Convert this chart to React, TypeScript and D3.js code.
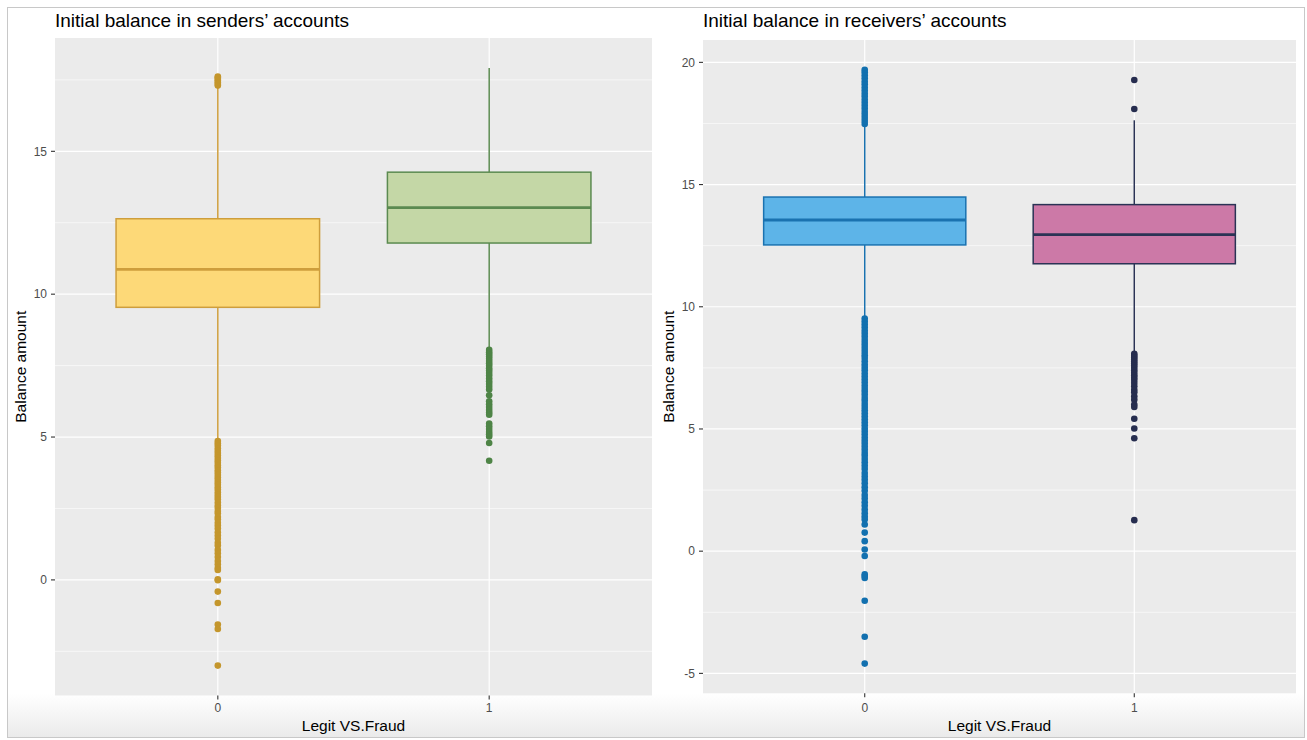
import React from "react";
import * as d3 from "d3";

// ---------- DATA ----------
const categories = ["0", "1"];
const xTitle = "Legit VS.Fraud";
const yTitle = "Balance amount";

const sendersTitle = "Initial balance in senders\u2019 accounts";
const sendersTicks = [0, 5, 10, 15];
// [lowWhisker, q1, median, q3, highWhisker]
const sendersLegitBox = [4.9, 9.54, 10.87, 12.64, 17.25];
const sendersFraudBox = [8.1, 11.79, 13.03, 14.27, 17.92];
const sendersLegitOutliers = [
  17.3, 17.36, 17.42, 17.48, 17.53, 17.58, 17.62,
  4.86, 4.78, 4.7, 4.61, 4.52, 4.44, 4.35, 4.27, 4.18, 4.1, 4.01, 3.93, 3.84, 3.76, 3.67,
  3.58, 3.5, 3.41, 3.33, 3.24, 3.16, 3.07, 2.98, 2.9, 2.82, 2.71, 2.6, 2.52, 2.41, 2.33,
  2.2, 2.12, 2.0, 1.9, 1.8, 1.67, 1.55, 1.44, 1.3, 1.2, 1.05, 0.93, 0.8, 0.66, 0.55,
  0.42, 0.35, 0.02, -0.01, -0.41, -0.81, -1.56, -1.72, -3.0,
];
const sendersFraudOutliers = [
  8.05, 7.97, 7.9, 7.82, 7.74, 7.66, 7.58, 7.5, 7.41, 7.33, 7.24, 7.15, 7.05, 6.95, 6.86,
  6.76, 6.66, 6.46, 6.25, 6.15, 6.05, 5.95, 5.86, 5.78, 5.47, 5.38, 5.28, 5.18, 5.1, 5.02,
  4.79, 4.17,
];

const receiversTitle = "Initial balance in receivers\u2019 accounts";
const receiversTicks = [-5, 0, 5, 10, 15, 20];
const receiversLegitBox = [9.6, 12.53, 13.55, 14.49, 17.4];
const receiversFraudBox = [8.15, 11.76, 12.95, 14.18, 17.63];
const receiversLegitOutliers = [
  17.48, 17.6, 17.72, 17.85, 17.97, 18.1, 18.22, 18.35, 18.47, 18.6, 18.72, 18.85, 18.97,
  19.1, 19.22, 19.35, 19.47, 19.6, 19.7,
  9.52, 9.4, 9.27, 9.15, 9.02, 8.9, 8.77, 8.64, 8.52, 8.4, 8.27, 8.15, 8.02, 7.9, 7.77,
  7.64, 7.52, 7.4, 7.27, 7.15, 7.02, 6.9, 6.77, 6.64, 6.52, 6.4, 6.27, 6.15, 6.02, 5.9,
  5.77, 5.64, 5.52, 5.4, 5.27, 5.15, 5.02, 4.9, 4.77, 4.64, 4.52, 4.4, 4.27, 4.15, 4.02,
  3.9, 3.77, 3.64, 3.5, 3.36, 3.2, 3.06, 2.92, 2.78, 2.62, 2.47, 2.3, 2.16, 2.0, 1.86,
  1.7, 1.55, 1.42, 1.3, 1.09, 0.76, 0.41, 0.07, -0.2, -0.95, -1.02, -1.1, -2.03, -3.5, -4.6,
];
const receiversFraudOutliers = [
  19.28, 18.09, 8.08, 8.0, 7.92, 7.84, 7.76, 7.68, 7.6, 7.5, 7.4, 7.3, 7.2, 7.1, 7.0,
  6.88, 6.75, 6.6, 6.5, 6.34, 6.2, 6.0, 5.9, 5.42, 5.02, 4.62, 1.27,
];

// ---------- STYLE ----------
const sendersStyles = [
  { fill: "#FDD978", stroke: "#CE9E3C", point: "#C4962C" },
  { fill: "#C4D7A6", stroke: "#5B8A50", point: "#4E8446" },
];
const receiversStyles = [
  { fill: "#5DB4E8", stroke: "#1A72B0", point: "#1270AF" },
  { fill: "#CC79A7", stroke: "#2B3355", point: "#262D4F" },
];

const FONT = "'Liberation Sans', Arial, Helvetica, sans-serif";

type PanelProps = {
  title: string;
  left: number;
  right: number;
  top: number;
  bottom: number;
  ticks: number[];
  boxes: number[][];
  outliers: number[][];
  styles: { fill: string; stroke: string; point: string }[];
  yTitleX: number;
};

function Panel(p: PanelProps) {
  const all = p.boxes.flat().concat(p.outliers.flat());
  const lo = d3.min(all) as number;
  const hi = d3.max(all) as number;
  const pad = (hi - lo) * 0.05;
  const y = d3.scaleLinear().domain([lo - pad, hi + pad]).range([p.bottom, p.top]);
  const x = d3
    .scalePoint<string>()
    .domain(categories)
    .range([p.left, p.right])
    .padding(0.6);
  const step = x.step();
  const boxW = step * 0.75;
  const [d0, d1] = y.domain();
  const minor: number[] = [];
  for (let i = 0; i < p.ticks.length + 1; i++) {
    const v = p.ticks[0] - 2.5 + i * 5;
    if (v > d0 && v < d1) minor.push(v);
  }
  const midY = (p.top + p.bottom) / 2;
  const midX = (p.left + p.right) / 2;
  return (
    <g>
      <text x={p.left} y={27} fontFamily={FONT} fontSize={19} fill="#000">
        {p.title}
      </text>
      <rect x={p.left} y={p.top} width={p.right - p.left} height={p.bottom - p.top} fill="#EBEBEB" />
      {minor.map((v) => (
        <line key={"mi" + v} x1={p.left} x2={p.right} y1={y(v)} y2={y(v)} stroke="#fff" strokeWidth={0.6} />
      ))}
      {p.ticks.map((v) => (
        <line key={"ma" + v} x1={p.left} x2={p.right} y1={y(v)} y2={y(v)} stroke="#fff" strokeWidth={1.2} />
      ))}
      {categories.map((c) => (
        <line key={"vx" + c} x1={x(c)} x2={x(c)} y1={p.top} y2={p.bottom} stroke="#fff" strokeWidth={1.2} />
      ))}
      {categories.map((c, i) => {
        const [w0, q1, md, q3, w1] = p.boxes[i];
        const cx = x(c) as number;
        const st = p.styles[i];
        return (
          <g key={"b" + c}>
            <line x1={cx} x2={cx} y1={y(q3)} y2={y(w1)} stroke={st.stroke} strokeWidth={1.5} />
            <line x1={cx} x2={cx} y1={y(q1)} y2={y(w0)} stroke={st.stroke} strokeWidth={1.5} />
            <rect
              x={cx - boxW / 2}
              y={y(q3)}
              width={boxW}
              height={y(q1) - y(q3)}
              fill={st.fill}
              stroke={st.stroke}
              strokeWidth={1.5}
            />
            <line x1={cx - boxW / 2} x2={cx + boxW / 2} y1={y(md)} y2={y(md)} stroke={st.stroke} strokeWidth={2.8} />
            {p.outliers[i].map((v, k) => (
              <circle key={k} cx={cx} cy={y(v)} r={3.3} fill={st.point} />
            ))}
          </g>
        );
      })}
      {p.ticks.map((v) => (
        <g key={"yt" + v}>
          <line x1={p.left - 4} x2={p.left} y1={y(v)} y2={y(v)} stroke="#333" strokeWidth={1.1} />
          <text
            x={p.left - 8}
            y={y(v)}
            dy="0.35em"
            textAnchor="end"
            fontFamily={FONT}
            fontSize={12}
            fill="#4D4D4D"
          >
            {v}
          </text>
        </g>
      ))}
      {categories.map((c) => (
        <g key={"xt" + c}>
          <line x1={x(c)} x2={x(c)} y1={p.bottom} y2={p.bottom + 4} stroke="#333" strokeWidth={1.1} />
          <text x={x(c)} y={712} textAnchor="middle" fontFamily={FONT} fontSize={12} fill="#4D4D4D">
            {c}
          </text>
        </g>
      ))}
      <text x={midX} y={731} textAnchor="middle" fontFamily={FONT} fontSize={15.5} fill="#000">
        {xTitle}
      </text>
      <text
        transform={`translate(${p.yTitleX},${midY}) rotate(-90)`}
        textAnchor="middle"
        fontFamily={FONT}
        fontSize={15.5}
        fill="#000"
      >
        {yTitle}
      </text>
    </g>
  );
}

export default function App() {
  return (
    <svg
      width={1307}
      height={740}
      style={{ position: "absolute", left: 0, top: 0, background: "#fff" }}
    >
      <defs>
        <linearGradient id="bottomFade" x1="0" y1="0" x2="0" y2="1">
          <stop offset="0" stopColor="#ffffff" />
          <stop offset="1" stopColor="#EAEAEA" />
        </linearGradient>
      </defs>
      <rect x={0} y={0} width={1307} height={740} fill="#fff" />
      <rect x={8} y={694} width={1296} height={44} fill="url(#bottomFade)" />
      <Panel
        title={sendersTitle}
        left={55}
        right={652}
        top={38}
        bottom={695.5}
        ticks={sendersTicks}
        boxes={[sendersLegitBox, sendersFraudBox]}
        outliers={[sendersLegitOutliers, sendersFraudOutliers]}
        styles={sendersStyles}
        yTitleX={26}
      />
      <Panel
        title={receiversTitle}
        left={703}
        right={1296}
        top={40}
        bottom={693.3}
        ticks={receiversTicks}
        boxes={[receiversLegitBox, receiversFraudBox]}
        outliers={[receiversLegitOutliers, receiversFraudOutliers]}
        styles={receiversStyles}
        yTitleX={674}
      />
      <rect x={7.5} y={7.5} width={1297} height={730} fill="none" stroke="#C8C8C8" strokeWidth={1} />
    </svg>
  );
}
